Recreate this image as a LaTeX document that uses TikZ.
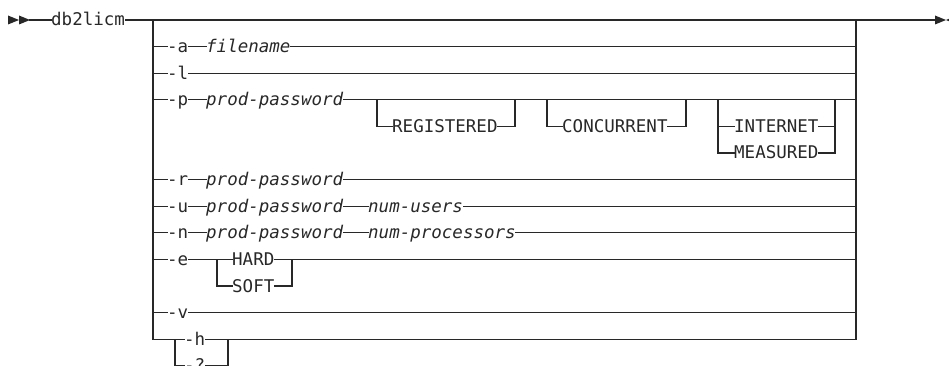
\documentclass[tikz,border=0pt]{standalone}
\usepackage{fontspec}
\setmonofont{DejaVu Sans Mono}
\definecolor{railgray}{RGB}{40,40,40}
\tikzset{
    % syntax items
    kw/.style={inner xsep=0pt, inner ysep=0pt, text height=12pt, text depth=0pt,
               anchor=west, text=railgray, font=\ttfamily\fontsize{17.5}{20}\selectfont},
    var/.style={kw, font=\ttfamily\itshape\fontsize{17.5}{20}\selectfont},
    % lines and end marks
    rail/.style={line width=1.2pt, railgray, line cap=rect},
    tip/.style={fill=railgray},
}
\begin{document}
\begin{tikzpicture}[x=1pt, y=-1pt]
\useasboundingbox (0,0) rectangle (949,366);

% main line
\coordinate (start) at (30,20);
\coordinate (Ltop)  at (153,20);
\coordinate (Rtop)  at (856,20);
\coordinate (mk1)   at (861,20);
\coordinate (mk2)   at (883,20);
\coordinate (stop)  at (935,20);
\node[kw] (cmd) at (51,20) {db2licm};

\fill[tip] (8,15.5) -- (19,20) -- (8,24.5) -- cycle;
\fill[tip] (19,15.5) -- (30,20) -- (19,24.5) -- cycle;
\fill[tip] (935,15.5) -- (946,20) -- (935,24.5) -- cycle;
\fill[tip] (957,15.5) -- (946,20) -- (957,24.5) -- cycle;

\draw[rail] (start) -- (cmd) -- (Ltop) -- (Rtop) -- (stop);
\draw[rail, line width=2.4pt, line cap=butt] (mk1) -- (mk2);

% -a filename
\coordinate (La) at (153,46.6); \coordinate (Ra) at (856,46.6);
\node[kw]  (a)     at (167,46.6) {-a};
\node[var] (afile) at (206,46.6) {filename};
\draw[rail] (La) -- (a) -- (afile) -- (Ra);

% -l
\coordinate (Ll) at (153,73.2); \coordinate (Rl) at (856,73.2);
\node[kw] (l) at (167,73.2) {-l};
\draw[rail] (Ll) -- (l) -- (Rl);

% -p prod-password [REGISTERED] [CONCURRENT] [INTERNET|MEASURED]
\coordinate (Lp) at (153,99.8); \coordinate (Rp) at (856,99.8);
\node[kw]  (p)    at (167,99.8) {-p};
\node[var] (ppw)  at (206,99.8) {prod-password};
\draw[rail] (Lp) -- (p) -- (ppw) -- (Rp);

\coordinate (regl) at (377,99.8); \coordinate (regr) at (515,99.8);
\node[kw] (reg) at (392,126.4) {REGISTERED};
\draw[rail] (regl) |- (reg);
\draw[rail] (reg) -| (regr);

\coordinate (conl) at (547,99.8); \coordinate (conr) at (686,99.8);
\node[kw] (con) at (562,126.4) {CONCURRENT};
\draw[rail] (conl) |- (con);
\draw[rail] (con) -| (conr);

\coordinate (netl) at (718,99.8); \coordinate (netr) at (835,99.8);
\node[kw] (inet) at (734,126.4) {INTERNET};
\node[kw] (meas) at (734,153) {MEASURED};
\draw[rail] (netl) |- (meas);
\draw[rail] (meas) -| (netr);
\draw[rail] (inet.west -| netl) -- (inet);
\draw[rail] (inet) -- (inet.east -| netr);

% -r prod-password
\coordinate (Lr) at (153,179.6); \coordinate (Rr) at (856,179.6);
\node[kw]  (r)   at (167,179.6) {-r};
\node[var] (rpw) at (206,179.6) {prod-password};
\draw[rail] (Lr) -- (r) -- (rpw) -- (Rr);

% -u prod-password num-users
\coordinate (Lu) at (153,206.2); \coordinate (Ru) at (856,206.2);
\node[kw]  (u)     at (167,206.2) {-u};
\node[var] (upw)   at (206,206.2) {prod-password};
\node[var] (users) at (368,206.2) {num-users};
\draw[rail] (Lu) -- (u) -- (upw) -- (users) -- (Ru);

% -n prod-password num-processors
\coordinate (Ln) at (153,232.8); \coordinate (Rn) at (856,232.8);
\node[kw]  (n)     at (167,232.8) {-n};
\node[var] (npw)   at (206,232.8) {prod-password};
\node[var] (procs) at (368,232.8) {num-processors};
\draw[rail] (Ln) -- (n) -- (npw) -- (procs) -- (Rn);

% -e HARD|SOFT
\coordinate (Le) at (153,259.4); \coordinate (Re) at (856,259.4);
\node[kw] (e)    at (167,259.4) {-e};
\node[kw] (hard) at (232,259.4) {HARD};
\node[kw] (soft) at (232,286) {SOFT};
\coordinate (hsl) at (217,259.4); \coordinate (hsr) at (292,259.4);
\draw[rail] (Le) -- (e) -- (hard) -- (Re);
\draw[rail] (hsl) |- (soft);
\draw[rail] (soft) -| (hsr);

% -v
\coordinate (Lv) at (153,312.6); \coordinate (Rv) at (856,312.6);
\node[kw] (v) at (167,312.6) {-v};
\draw[rail] (Lv) -- (v) -- (Rv);

% -h | -?  (last row closes both rails)
\coordinate (Lbot) at (153,339.2); \coordinate (Rbot) at (856,339.2);
\node[kw] (h) at (184,339.2) {-h};
\node[kw] (q) at (184,365.8) {-?};
\coordinate (hql) at (175,339.2); \coordinate (hqr) at (228,339.2);
\draw[rail] (Ltop) -- (Lbot) -- (h) -- (Rbot) -- (Rtop);
\draw[rail] (hql) |- (q);
\draw[rail] (q) -| (hqr);
\end{tikzpicture}
\end{document}
